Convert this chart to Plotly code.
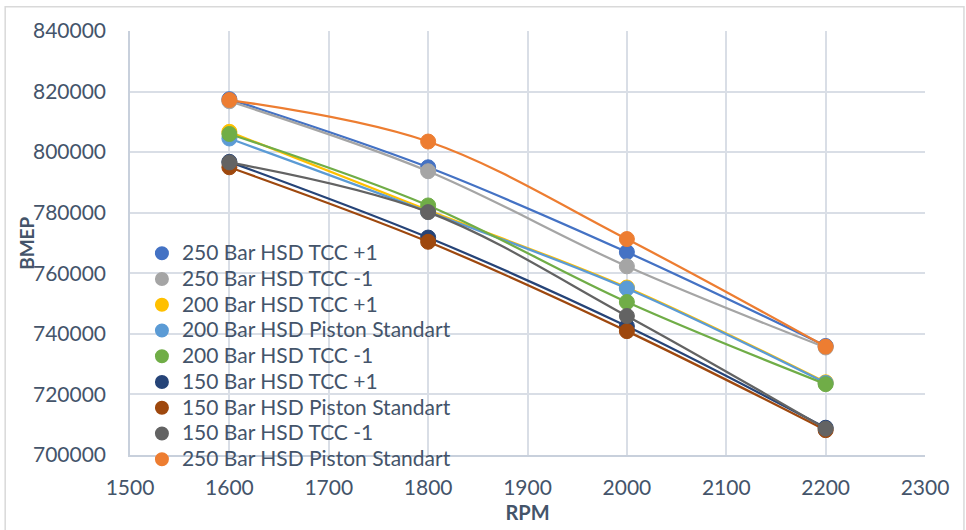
import plotly.graph_objects as go

# Engine speed (RPM) and brake mean effective pressure per configuration
rpm = [1600, 1800, 2000, 2200]

series_names = [
    "250 Bar HSD TCC +1",
    "250 Bar HSD TCC -1",
    "200 Bar HSD TCC +1",
    "200 Bar HSD Piston Standart",
    "200 Bar HSD TCC -1",
    "150 Bar HSD TCC +1",
    "150 Bar HSD Piston Standart",
    "150 Bar HSD TCC -1",
    "250 Bar HSD Piston Standart",
]

bmep_250_tcc_p1 = [817500, 795000, 767000, 736000]
bmep_250_tcc_m1 = [816800, 793700, 762300, 735500]
bmep_200_tcc_p1 = [806700, 780800, 755300, 724000]
bmep_200_std = [804500, 780300, 755000, 723800]
bmep_200_tcc_m1 = [806000, 782400, 750500, 723400]
bmep_150_tcc_p1 = [796800, 771800, 742500, 709000]
bmep_150_std = [795000, 770400, 740900, 708200]
bmep_150_tcc_m1 = [796600, 780200, 745900, 708700]
bmep_250_std = [817200, 803500, 771300, 735800]

series_values = [
    bmep_250_tcc_p1, bmep_250_tcc_m1, bmep_200_tcc_p1, bmep_200_std,
    bmep_200_tcc_m1, bmep_150_tcc_p1, bmep_150_std, bmep_150_tcc_m1,
    bmep_250_std,
]

colors = [
    "#4472C4", "#A5A5A5", "#FFC000", "#5B9BD5", "#70AD47",
    "#264478", "#9E480E", "#636363", "#ED7D31",
]

x_ticks = [1500, 1600, 1700, 1800, 1900, 2000, 2100, 2200, 2300]
y_ticks = [700000, 720000, 740000, 760000, 780000, 800000, 820000, 840000]

FONT = "Lato"
TEXT_COLOR = "#44546A"
GRID_COLOR = "#D9DEE6"

fig = go.Figure()

for name, vals, col in zip(series_names, series_values, colors):
    # smoothed connecting line
    fig.add_trace(go.Scatter(
        x=rpm, y=vals, mode="lines", name=name, legendgroup=name,
        showlegend=False, hoverinfo="skip",
        line=dict(color=col, width=2.25, shape="spline", smoothing=1),
    ))
    # data point markers (also the legend entry); the entry text is set a
    # little larger than the legend font so the rows stay tightly packed
    fig.add_trace(go.Scatter(
        x=rpm, y=vals, mode="markers", legendgroup=name,
        name=f'<span style="font-size:21px">{name}</span>',
        marker=dict(color=col, size=15, line=dict(color=col, width=1)),
    ))

# light outer frame around the whole chart area
fig.add_shape(
    type="rect", xref="paper", yref="paper",
    x0=-0.157, x1=1.049, y0=-0.19, y1=1.057,
    line=dict(color="#D9D9D9", width=1.5), fillcolor="rgba(0,0,0,0)",
    layer="below",
)

# vertical value-axis title
fig.add_annotation(
    text="<b>BMEP</b>", textangle=-90, showarrow=False,
    xref="paper", yref="paper", x=-0.131, y=0.5,
    xanchor="center", yanchor="middle",
    font=dict(family=FONT, size=19, color=TEXT_COLOR),
)

fig.update_layout(
    width=966, height=530,
    margin=dict(l=130, r=41, t=31, b=75, autoexpand=False),
    paper_bgcolor="white", plot_bgcolor="white",
    hovermode=False,
    font=dict(family=FONT, color=TEXT_COLOR, size=20),
    legend=dict(
        x=0.015, y=0.518, xanchor="left", yanchor="top",
        bgcolor="rgba(0,0,0,0)", borderwidth=0, tracegroupgap=0,
        font=dict(family=FONT, size=17.5, color=TEXT_COLOR),
        itemsizing="constant",
    ),
    xaxis=dict(
        range=[1500, 2300], tickvals=x_ticks, ticktext=[str(v) for v in x_ticks],
        showgrid=True, gridcolor=GRID_COLOR, gridwidth=1.5,
        showline=True, linecolor="#C8D0DC", linewidth=1.5, mirror=False,
        zeroline=False, ticks="", ticklabelstandoff=13,
        tickfont=dict(family=FONT, size=21, color=TEXT_COLOR),
        title=dict(text="<b>RPM</b>", font=dict(family=FONT, size=20, color=TEXT_COLOR),
                   standoff=8),
    ),
    yaxis=dict(
        range=[700000, 840000], tickvals=y_ticks, ticktext=[str(v) for v in y_ticks],
        showgrid=True, gridcolor=GRID_COLOR, gridwidth=1.5,
        showline=True, linecolor="#C8D0DC", linewidth=1.5,
        zeroline=False, ticks="", ticklabelstandoff=18,
        tickfont=dict(family=FONT, size=21, color=TEXT_COLOR),
    ),
)

fig.write_html("out.html")
